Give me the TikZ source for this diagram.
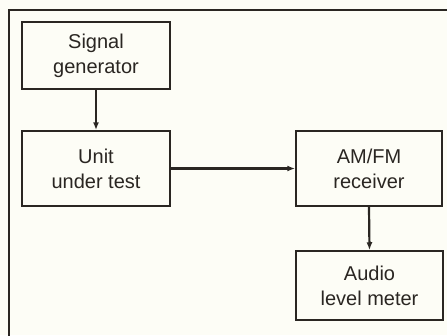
\documentclass[tikz,border=0pt]{standalone}
\usepackage{fontspec}
\setmainfont{Liberation Sans}
\usetikzlibrary{arrows.meta}
\definecolor{ink}{HTML}{2A2622}
\definecolor{paper}{HTML}{FDFDF6}
\begin{document}
\begin{tikzpicture}[x=1pt,y=-1pt,
  blk/.style={draw=ink,line width=1.5pt,minimum width=148pt,align=center,
    font=\fontsize{20}{25}\selectfont,text=ink,inner sep=0pt},
  conn/.style={draw=ink,line width=2.2pt,-{Latex[length=8pt,width=6pt]}}]
\fill[paper] (0,0) rectangle (447,335);
\useasboundingbox (0,0) rectangle (447,335);
\draw[ink,line width=2.6pt] (9,336) -- (9,10) -- (448,10);
\node[blk,minimum height=67pt] (sg) at (96,55.5) {Signal\\generator};
\node[blk,minimum height=75pt] (ut) at (96,168.5) {Unit\\under test};
\node[blk,minimum height=75pt,minimum width=146pt] (rx) at (369,168.5) {AM/FM\\receiver};
\node[blk,minimum height=69pt,minimum width=147pt] (lm) at (369.5,285.5) {Audio\\level meter};
\draw[conn] (sg.south) -- (ut.north);
\draw[conn] (ut.east) -- (rx.west);
\draw[conn] (rx.south) -- (lm.north);
\end{tikzpicture}
\end{document}
